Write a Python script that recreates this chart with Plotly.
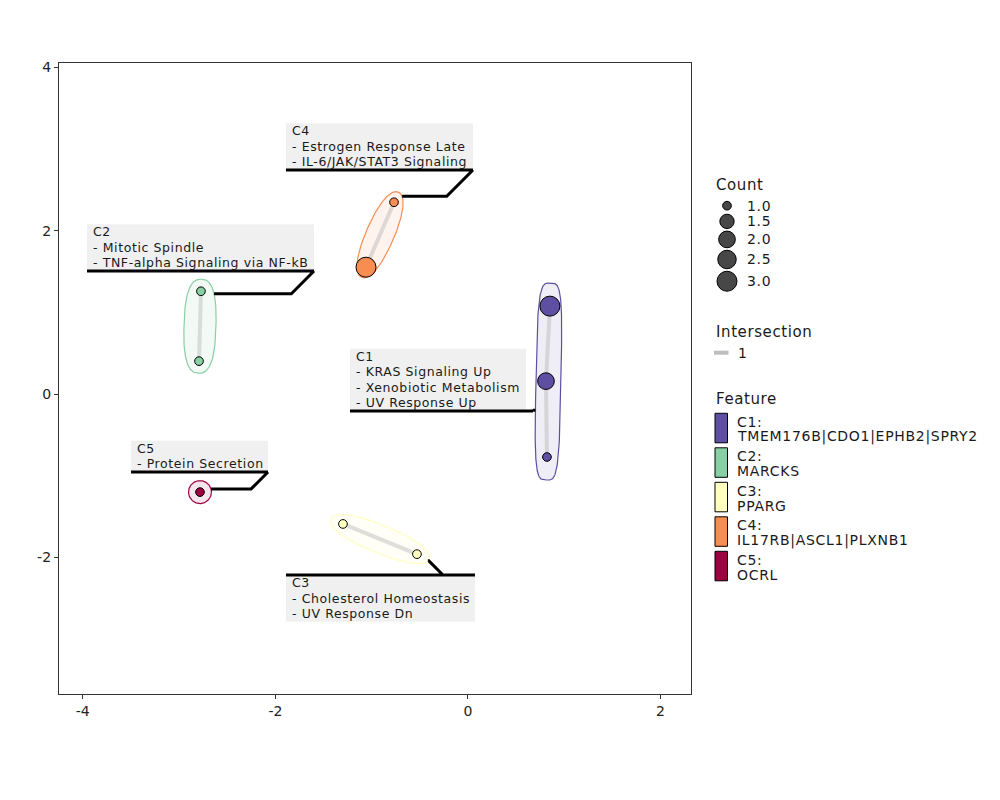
import numpy as np
import plotly.graph_objects as go

# ---------------- data ----------------
node_cluster = ["C1", "C1", "C1", "C2", "C2", "C3", "C3", "C4", "C4", "C5"]
node_x = [0.851, 0.810, 0.820, -2.773, -2.793, -1.298, -0.530, -0.768, -1.059, -2.783]
node_y = [1.078, 0.159, -0.770, 1.260, 0.404, -1.590, -1.960, 2.350, 1.555, -1.200]
node_count = [3, 2, 1, 1, 1, 1, 1, 1, 3, 1]

edge_from = [0, 1, 3, 5, 7]
edge_to = [1, 2, 4, 6, 8]
edge_intersection = [1, 1, 1, 1, 1]

clusters = ["C1", "C2", "C3", "C4", "C5"]
cluster_features = ["TMEM176B|CDO1|EPHB2|SPRY2", "MARCKS", "PPARG",
                    "IL17RB|ASCL1|PLXNB1", "OCRL"]
cluster_terms = [
    ["KRAS Signaling Up", "Xenobiotic Metabolism", "UV Response Up"],
    ["Mitotic Spindle", "TNF-alpha Signaling via NF-kB"],
    ["Cholesterol Homeostasis", "UV Response Dn"],
    ["Estrogen Response Late", "IL-6/JAK/STAT3 Signaling"],
    ["Protein Secretion"],
]
count_breaks = [1.0, 1.5, 2.0, 2.5, 3.0]
intersection_breaks = [1]
x_ticks = [-4, -2, 0, 2]
y_ticks = [-2, 0, 2, 4]

# ---------------- styles / layout ----------------
cluster_colors = ["#5E4FA2", "#88CFA4", "#FFFFBF", "#F88D52", "#9E0142"]
FONT = "DejaVu Sans"
FIG_W, FIG_H = 1000, 800
PAGE_OFF = 8                      # default body margin of the html page
L, T, W, H = 59, 63, 632, 631     # plot area in page pixels
XR = [-4.247, 2.316]
YR = [-3.673, 4.056]
SX = W / (XR[1] - XR[0])
SY = H / (YR[1] - YR[0])

# hull shape: pad along main axis (px), pad across (px), superellipse exponent
hull_style = {"C1": (23, 12.5, 4.0), "C2": (12, 16, 2.6), "C3": (13, 14, 2.2),
              "C4": (11, 14, 2.2), "C5": (11.5, 11.5, 2.0)}
# label layout: underline-left (data x, y), side, box width px, underline length px, attach px
label_layout = {
    "C1": (-1.225, -0.207, "above", 176, 183, 183),
    "C2": (-3.956, 1.508, "above", 227, 227, 227),
    "C3": (-1.890, -2.215, "below", 189, 189, 157),
    "C4": (-1.890, 2.745, "above", 187, 187, 187),
    "C5": (-3.499, -0.954, "above", 137, 137, 137),
}
LINE_H = 15.6


def to_px(x, y):
    return L + (np.asarray(x) - XR[0]) * SX, T + (YR[1] - np.asarray(y)) * SY


def from_px(px, py):
    return XR[0] + (np.asarray(px) - L) / SX, YR[1] - (np.asarray(py) - T) / SY


def rgba(hexc, a):
    hexc = hexc.lstrip("#")
    r, g, b = int(hexc[0:2], 16), int(hexc[2:4], 16), int(hexc[4:6], 16)
    return f"rgba({r},{g},{b},{a})"


def count_size(c):
    lo, hi = min(count_breaks), max(count_breaks)
    return 8.7 + 11.3 * np.sqrt((c - lo) / (hi - lo))


def spaced(s, ls=0.8):
    return f'<span style="letter-spacing:{ls}px">{s}</span>'


fig = go.Figure()

# ---------------- hulls ----------------
hulls = {}
for ci, cl in enumerate(clusters):
    idx = [i for i, c in enumerate(node_cluster) if c == cl]
    pts = np.array([to_px(node_x[i], node_y[i]) for i in idx], dtype=float)
    pa, pp, n = hull_style[cl]
    if len(pts) == 1:
        center = pts[0]
        d = np.array([1.0, 0.0])
        half = 0.0
    else:
        best = (0.0, 0, 1)
        for i in range(len(pts)):
            for j in range(i + 1, len(pts)):
                dd = np.linalg.norm(pts[i] - pts[j])
                if dd > best[0]:
                    best = (dd, i, j)
        dd, i, j = best
        center = (pts[i] + pts[j]) / 2
        d = (pts[j] - pts[i]) / dd
        half = dd / 2
    perp = np.array([-d[1], d[0]])
    t = np.linspace(0, 2 * np.pi, 361)
    a, b = half + pa, pp
    u = a * np.sign(np.cos(t)) * np.abs(np.cos(t)) ** (2 / n)
    v = b * np.sign(np.sin(t)) * np.abs(np.sin(t)) ** (2 / n)
    hp = center[None, :] + u[:, None] * d[None, :] + v[:, None] * perp[None, :]
    hulls[cl] = hp
    hx, hy = from_px(hp[:, 0], hp[:, 1])
    fig.add_trace(go.Scatter(
        x=hx, y=hy, mode="lines", fill="toself",
        fillcolor=rgba(cluster_colors[ci], 0.1),
        line=dict(color=cluster_colors[ci], width=1.2),
        hoverinfo="skip", showlegend=False))

# ---------------- edges ----------------
ex, ey = [], []
for f, t_ in zip(edge_from, edge_to):
    ex += [node_x[f], node_x[t_], None]
    ey += [node_y[f], node_y[t_], None]
fig.add_trace(go.Scatter(x=ex, y=ey, mode="lines",
                         line=dict(color="rgba(190,190,190,0.5)", width=4),
                         hoverinfo="skip", showlegend=False))

# ---------------- nodes ----------------
col_map = dict(zip(clusters, cluster_colors))
fig.add_trace(go.Scatter(
    x=node_x, y=node_y, mode="markers",
    marker=dict(size=[count_size(c) for c in node_count],
                color=[col_map[c] for c in node_cluster],
                line=dict(color="black", width=1), opacity=1),
    showlegend=False))

# ---------------- labels ----------------
shapes = []
annotations = []
for ci, cl in enumerate(clusters):
    ax, ay, side, bw, ulen, attach = label_layout[cl]
    lines = [cl] + ["- " + s for s in cluster_terms[ci]]
    pxl, pyl = to_px(ax, ay)
    bh = len(lines) * LINE_H
    if side == "above":
        top, bot = pyl - bh, pyl
    else:
        top, bot = pyl, pyl + bh
    x0, y0 = from_px(pxl, bot)
    x1, y1 = from_px(pxl + bw, top)
    shapes.append(dict(type="rect", xref="x", yref="y", x0=float(x0), x1=float(x1),
                       y0=float(y0), y1=float(y1), fillcolor="#F0F0F0",
                       line=dict(width=0), layer="above"))
    for li, s in enumerate(lines):
        annotations.append(dict(
            xref="x", yref="y", x=float(from_px(pxl + 5, 0)[0]),
            y=float(from_px(0, top + LINE_H * (li + 0.5) - 0.3)[1]),
            xanchor="left", yanchor="middle", align="left", showarrow=False, borderpad=0,
            text=spaced(s, 0.6),
            font=dict(family=FONT, size=12.5, color="#1A1A1A")))
    # underline
    ux0, uy = from_px(pxl, pyl)
    ux1, _ = from_px(pxl + ulen, pyl)
    # connector: start at attach, go to nearest hull point with 45deg elbow
    S = np.array([pxl + attach, pyl])
    hp = hulls[cl]
    k = np.argmin(np.sum((hp - S[None, :]) ** 2, axis=1))
    Tg = hp[k]
    dx, dy = Tg[0] - S[0], Tg[1] - S[1]
    pts = [S]
    if abs(dx) > abs(dy):
        pts.append(np.array([S[0] + np.sign(dx) * abs(dy), Tg[1]]))
    pts.append(Tg)
    path = f"M {float(ux0)},{float(uy)} L {float(ux1)},{float(uy)} "
    cx, cy = from_px([p[0] for p in pts], [p[1] for p in pts])
    path += f"M {float(cx[0])},{float(cy[0])} " + " ".join(
        f"L {float(a_)},{float(b_)}" for a_, b_ in zip(cx[1:], cy[1:]))
    shapes.append(dict(type="path", xref="x", yref="y", path=path,
                       line=dict(color="black", width=3), layer="above"))


# ---------------- manual legend (paper coords) ----------------
def pxx(px):
    return (px - L) / W


def pyy(py):
    return (T + H - py) / H


def legend_text(px, py, s, size=14, ls=0.7):
    annotations.append(dict(xref="paper", yref="paper", x=pxx(px), y=pyy(py),
                            xanchor="left", yanchor="middle", showarrow=False,
                            text=spaced(s, ls),
                            font=dict(family=FONT, size=size, color="#1A1A1A")))


legend_text(714, 185, "Count", 15, 0.6)
cy_ = 205.7
heights = [max(14.5, count_size(c) + 2.5) for c in count_breaks]
for k, c in enumerate(count_breaks):
    if k > 0:
        cy_ += (heights[k - 1] + heights[k]) / 2
    r = count_size(c) / 2
    shapes.append(dict(type="circle", xref="paper", yref="paper",
                       x0=pxx(727 - r), x1=pxx(727 + r), y0=pyy(cy_ + r), y1=pyy(cy_ - r),
                       fillcolor="#474747", line=dict(color="black", width=1)))
    legend_text(745.5, cy_, f"{c:.1f}")

legend_text(714, 331.7, "Intersection", 15, 0.6)
for k, v in enumerate(intersection_breaks):
    yy = 352.7 + k * 17
    shapes.append(dict(type="line", xref="paper", yref="paper",
                       x0=pxx(714), x1=pxx(728.5), y0=pyy(yy), y1=pyy(yy),
                       line=dict(color="#BEBEBE", width=4)))
    legend_text(735.5, yy, str(v))

legend_text(714, 398.7, "Feature", 15, 0.6)
for k, cl in enumerate(clusters):
    top = 413.3 + k * 34.5
    shapes.append(dict(type="rect", xref="paper", yref="paper",
                       x0=pxx(715), x1=pxx(727.5), y0=pyy(top + 29.5), y1=pyy(top),
                       fillcolor=cluster_colors[k], line=dict(color="black", width=1)))
    legend_text(735, top + 8.5, f"{cl}:")
    legend_text(735, top + 23.2, cluster_features[k])

fig.update_layout(
    width=FIG_W, height=FIG_H,
    margin=dict(l=L - PAGE_OFF, r=FIG_W - (L - PAGE_OFF) - W,
                t=T - PAGE_OFF, b=FIG_H - (T - PAGE_OFF) - H),
    paper_bgcolor="white", plot_bgcolor="white",
    showlegend=False,
    shapes=shapes, annotations=annotations,
    font=dict(family=FONT),
    xaxis=dict(range=XR, tickvals=x_ticks, ticktext=[str(v) for v in x_ticks],
               showgrid=False, zeroline=False, showline=True, mirror=True,
               linecolor="#333333", linewidth=1.3, ticks="outside", ticklen=4,
               tickcolor="#333333", tickfont=dict(family=FONT, size=14, color="#222222")),
    yaxis=dict(range=YR, tickvals=y_ticks, ticktext=[str(v) for v in y_ticks],
               showgrid=False, zeroline=False, showline=True, mirror=True,
               linecolor="#333333", linewidth=1.3, ticks="outside", ticklen=4,
               tickcolor="#333333", tickfont=dict(family=FONT, size=14, color="#222222")),
)

fig.write_html("out.html")
